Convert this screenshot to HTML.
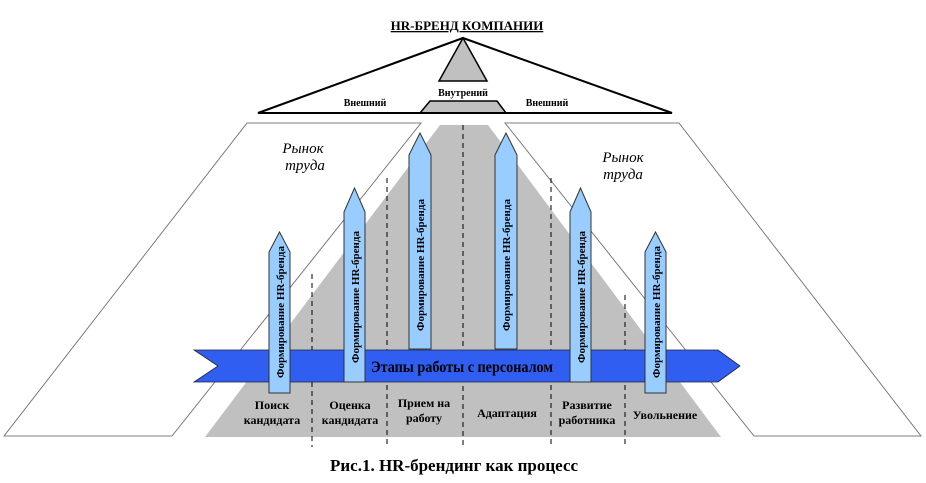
<!DOCTYPE html>
<html><head><meta charset="utf-8"><style>
html,body{margin:0;padding:0;background:#fff;}
svg{display:block;font-family:"Liberation Serif","DejaVu Serif",serif;}
</style></head><body>
<svg width="926" height="483" viewBox="0 0 926 483" xmlns="http://www.w3.org/2000/svg">
<text x="467" y="30" font-size="13" font-weight="bold" text-anchor="middle" text-decoration="underline">HR-БРЕНД КОМПАНИИ</text>
<polygon points="463,38 258,113 672,113" fill="#fff" stroke="#000" stroke-width="2"/>
<polygon points="463,38 439,81 487,81" fill="#c0c0c0" stroke="#000" stroke-width="1.5"/>
<polygon points="430,101 497,101 506,113 420,113" fill="#c0c0c0" stroke="#000" stroke-width="1.5"/>
<line x1="258" y1="113" x2="672" y2="113" stroke="#000" stroke-width="2"/>
<text x="463" y="96" font-size="10" font-weight="bold" text-anchor="middle">Внутрений</text>
<text x="365" y="106" font-size="10" font-weight="bold" text-anchor="middle">Внешний</text>
<text x="547" y="106" font-size="10" font-weight="bold" text-anchor="middle">Внешний</text>
<polygon points="247,123 421,123 172,436 4,436" fill="#fff" stroke="#777" stroke-width="0.8"/>
<polygon points="505,123 679,123 921,436 754,436" fill="#fff" stroke="#777" stroke-width="0.8"/>
<polygon points="440,125 488,125 721,437 205,437" fill="#c0c0c0"/>
<polygon points="247,123 421,123 172,436 4,436" fill="none" stroke="#777" stroke-width="0.8"/>
<polygon points="505,123 679,123 921,436 754,436" fill="none" stroke="#777" stroke-width="0.8"/>
<text x="303" y="153" font-size="15" font-style="italic" text-anchor="middle">Рынок</text>
<text x="305" y="170" font-size="15" font-style="italic" text-anchor="middle">труда</text>
<text x="623" y="162" font-size="15" font-style="italic" text-anchor="middle">Рынок</text>
<text x="623" y="179" font-size="15" font-style="italic" text-anchor="middle">труда</text>
<g stroke="#000" stroke-width="1" stroke-dasharray="5,4">
<line x1="312" y1="274" x2="312" y2="447"/>
<line x1="387" y1="178" x2="387" y2="447"/>
<line x1="463" y1="125" x2="463" y2="447"/>
<line x1="551" y1="178" x2="551" y2="447"/>
<line x1="625" y1="295" x2="625" y2="447"/>
</g>
<g fill="#99ccff" stroke="#333" stroke-width="1">
<polygon points="409,155 420,133 431,155 431,349 409,349"/>
<polygon points="495,155 506,133 517,155 517,349 495,349"/>
</g>
<polygon points="194,350 718,350 740,366 718,382 194,382 218,366" fill="#2f5ef0" stroke="#223" stroke-width="0.8"/>
<text x="371" y="372" font-size="16" font-weight="bold" fill="#000" textLength="182" lengthAdjust="spacingAndGlyphs">Этапы работы с персоналом</text>
<g fill="#99ccff" stroke="#333" stroke-width="1">
<polygon points="269,252 279.5,232 290,252 290,393 269,393"/>
<polygon points="344,212 354.5,188 365,212 365,382 344,382"/>
<polygon points="570,212 580.5,188 591,212 591,382 570,382"/>
<polygon points="645,252 655.5,232 666,252 666,393 645,393"/>
</g>
<g font-size="11" font-weight="bold" text-anchor="middle">
<text transform="translate(284,312) rotate(-90)">Формирование HR-бренда</text>
<text transform="translate(359,297) rotate(-90)">Формирование HR-бренда</text>
<text transform="translate(424,265) rotate(-90)">Формирование HR-бренда</text>
<text transform="translate(510,265) rotate(-90)">Формирование HR-бренда</text>
<text transform="translate(585,297) rotate(-90)">Формирование HR-бренда</text>
<text transform="translate(660,312) rotate(-90)">Формирование HR-бренда</text>
</g>
<g font-size="12" font-weight="bold" text-anchor="middle">
<text x="272" y="409">Поиск</text><text x="272" y="424">кандидата</text>
<text x="350" y="409">Оценка</text><text x="350" y="424">кандидата</text>
<text x="424" y="407">Прием на</text><text x="424" y="422">работу</text>
<text x="507" y="417">Адаптация</text>
<text x="587" y="409">Развитие</text><text x="587" y="424">работника</text>
<text x="665" y="419">Увольнение</text>
</g>
<text x="454" y="471" font-size="17" font-weight="bold" text-anchor="middle">Рис.1. HR-брендинг как процесс</text>
</svg>
</body></html>
